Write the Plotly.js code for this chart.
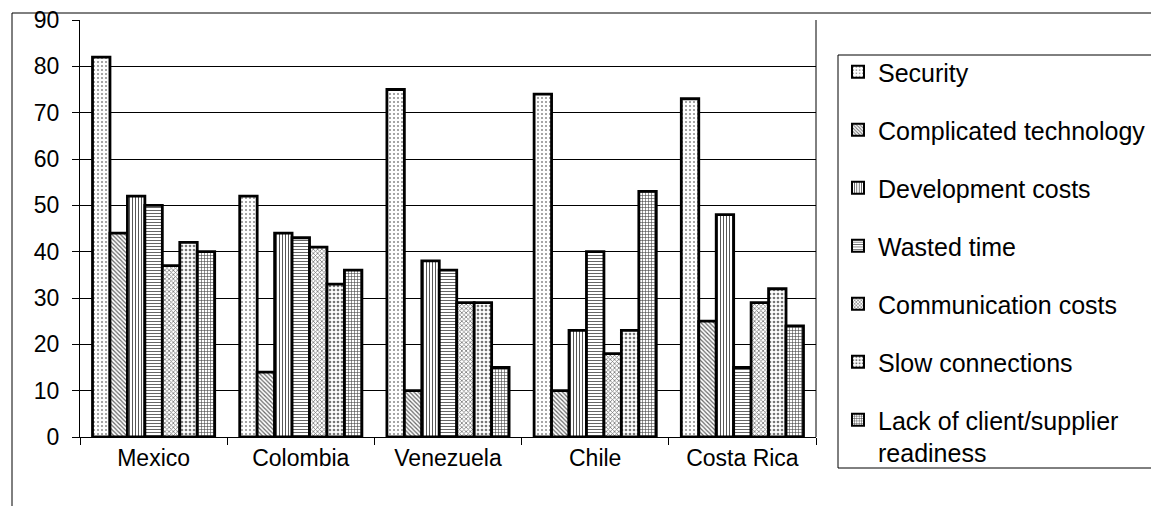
<!DOCTYPE html>
<html>
<head>
<meta charset="utf-8">
<script src="https://cdn.plot.ly/plotly-3.0.1.min.js"></script>
<style>html,body{margin:0;padding:0;background:#fff;}#chart{width:1151px;height:506px;}</style>
</head>
<body>
<div id="chart"></div>
<script>
const countries = ["Mexico", "Colombia", "Venezuela", "Chile", "Costa Rica"];
const seriesNames = ["Security", "Complicated technology", "Development costs", "Wasted time", "Communication costs", "Slow connections", "Lack of client/supplier<br>readiness"];
const security = [82, 52, 75, 74, 73];
const complicatedTechnology = [44, 14, 10, 10, 25];
const developmentCosts = [52, 44, 38, 23, 48];
const wastedTime = [50, 43, 36, 40, 15];
const communicationCosts = [37, 41, 29, 18, 29];
const slowConnections = [42, 33, 29, 23, 32];
const lackOfReadiness = [40, 36, 15, 53, 24];
const yTicks = [0, 10, 20, 30, 40, 50, 60, 70, 80, 90];

const allValues = [security, complicatedTechnology, developmentCosts, wastedTime, communicationCosts, slowConnections, lackOfReadiness];
const patterns = [
  {shape: ".", fgcolor: "#888", bgcolor: "#fff", size: 4, solidity: 0.2},
  {shape: "\\", fgcolor: "#666", bgcolor: "#fff", size: 3, solidity: 0.4},
  {shape: "|", fgcolor: "#444", bgcolor: "#fff", size: 3, solidity: 0.3},
  {shape: "-", fgcolor: "#666", bgcolor: "#fff", size: 3, solidity: 0.35},
  {shape: "x", fgcolor: "#777", bgcolor: "#fff", size: 3, solidity: 0.45},
  {shape: ".", fgcolor: "#777", bgcolor: "#fff", size: 4, solidity: 0.35},
  {shape: "+", fgcolor: "#444", bgcolor: "#fff", size: 3, solidity: 0.35}
];

const traces = allValues.map((vals, i) => ({
  type: "bar",
  name: seriesNames[i],
  x: countries,
  y: vals,
  legendgroup: "g" + i,
  marker: {
    color: "#fff",
    line: {color: "#000", width: 2.8},
    pattern: patterns[i]
  },
  hoverinfo: "x+y+name"
}));

// plot area: x 80..816 px, y 20..437 px
const px = v => (v - 80) / 736;
const py = v => (437 - v) / 417;

const layout = {
  width: 1151,
  height: 506,
  paper_bgcolor: "#fff",
  plot_bgcolor: "#fff",
  font: {family: "Liberation Sans, Arial, sans-serif", color: "#000", size: 23},
  margin: {l: 80, r: 335, t: 20, b: 69, autoexpand: false},
  barmode: "group",
  bargap: 0.17,
  bargroupgap: 0,
  showlegend: true,
  legend: {
    x: px(838), xref: "paper", xanchor: "left",
    y: py(49), yanchor: "top",
    bgcolor: "rgba(0,0,0,0)", borderwidth: 0,
    font: {size: 25, family: "Liberation Sans, Arial, sans-serif"},
    tracegroupgap: 22.5,
    traceorder: "grouped",
    itemsizing: "constant",
    valign: "top",
    maxheight: 490
  },
  xaxis: {
    showline: true, linecolor: "#000", linewidth: 1,
    ticks: "outside", tickson: "boundaries", ticklen: 7, tickcolor: "#000",
    tickfont: {size: 23}, showgrid: false, zeroline: false
  },
  yaxis: {
    range: [0, 90], tickvals: yTicks, ticktext: yTicks.map(String),
    showline: true, linecolor: "#000", linewidth: 1,
    ticks: "outside", ticklen: 7, tickcolor: "#000",
    showgrid: true, gridcolor: "#000", gridwidth: 1,
    zeroline: false, tickfont: {size: 23}, ticklabelstandoff: 8
  },
  shapes: [
    {type: "line", xref: "paper", yref: "paper", x0: 1, x1: 1, y0: 0, y1: 1, line: {color: "#000", width: 1}},
    {type: "rect", xref: "paper", yref: "paper", x0: px(12), x1: px(1200), y0: py(540), y1: py(13), line: {color: "#000", width: 1}, fillcolor: "rgba(0,0,0,0)", layer: "below"},
    {type: "rect", xref: "paper", yref: "paper", x0: px(838), x1: px(1200), y0: py(468), y1: py(55), line: {color: "#000", width: 1}, fillcolor: "#fff", layer: "below"}
  ]
};

Plotly.newPlot("chart", traces, layout, {displayModeBar: false, staticPlot: true});
</script>
</body>
</html>
